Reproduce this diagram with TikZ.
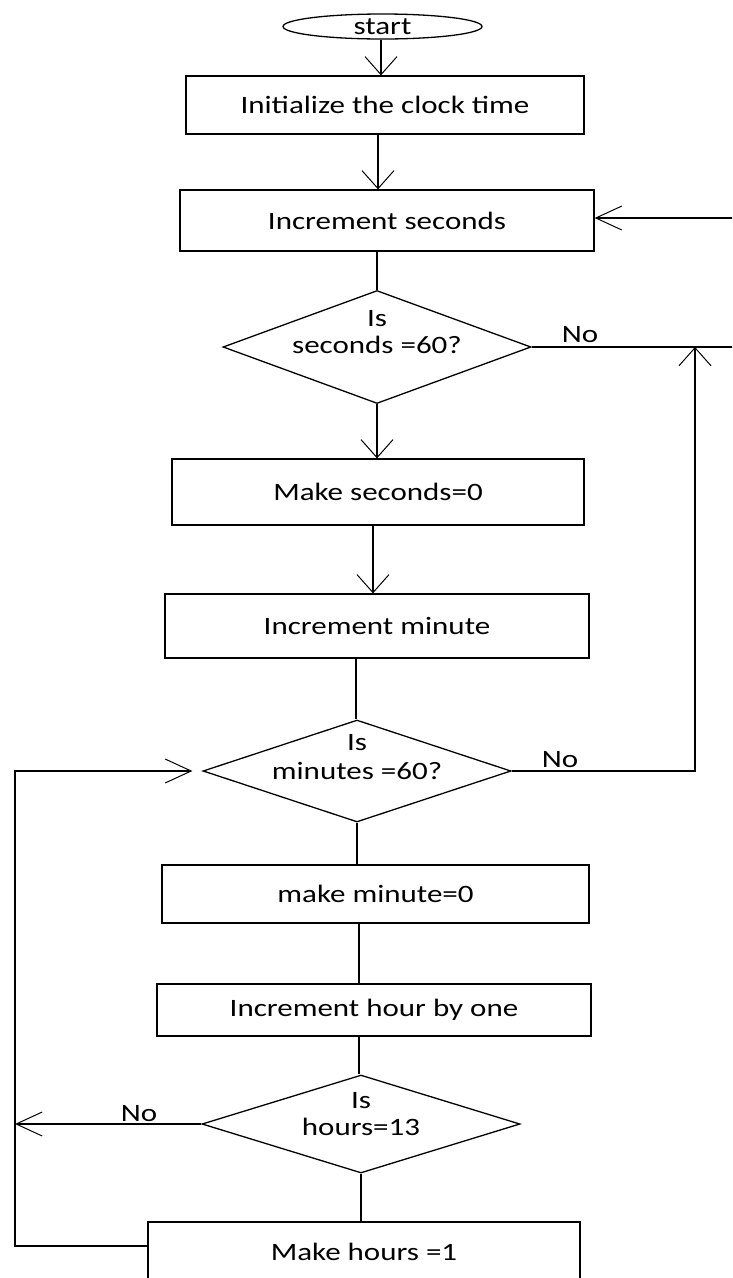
\documentclass[tikz,border=0pt]{standalone}
\usepackage{fontspec}
\setmainfont{Carlito}
\usetikzlibrary{arrows.meta,shapes.geometric,calc}

% text is set a little wider than the font's natural width
\newcommand{\wtxt}[1]{\scalebox{1.24}[1]{#1}}

\tikzset{
  flow/.style={line width=1.3pt, black},
  procbox/.style={draw, flow, rectangle, inner sep=0pt, font=\fontsize{25}{30}\selectfont},
  decide/.style={draw, flow, diamond, inner sep=0pt},
  termin/.style={draw, flow, ellipse, inner sep=0pt, font=\fontsize{25}{30}\selectfont},
  lbl/.style={inner sep=0pt, anchor=base, font=\fontsize{25}{30}\selectfont},
  vtip/.style={-{Straight Barb[length=18pt,width=32pt,line width=1pt]}},
  htip/.style={-{Straight Barb[length=26pt,width=24pt,line width=1pt]}},
}

\begin{document}
\begin{tikzpicture}[x=1pt,y=-1pt]
\useasboundingbox (0,0) rectangle (732,1278);
\clip (0,0) rectangle (732,1278);

% terminal and process boxes
\node[termin, minimum width=199pt, minimum height=25pt] (start) at (382.5,26.5) {\wtxt{start}};
\node[procbox, minimum width=398pt, minimum height=58pt] (b1) at (385,105) {\wtxt{Initialize the clock time}};
\node[procbox, minimum width=414pt, minimum height=61pt] (b2) at (387,220.5) {\wtxt{Increment seconds}};
\node[procbox, minimum width=412pt, minimum height=66pt] (b3) at (378,492) {\wtxt{Make seconds=0}};
\node[procbox, minimum width=424pt, minimum height=64pt] (b4) at (377,626) {\wtxt{Increment minute}};
\node[procbox, minimum width=427pt, minimum height=58pt] (b5) at (375.5,894) {\wtxt{make minute=0}};
\node[procbox, minimum width=434pt, minimum height=52pt] (b6) at (374,1010) {\wtxt{Increment hour by one}};
\node[procbox, minimum width=432pt, minimum height=60pt] (b7) at (364,1252) {\wtxt{Make hours =1}};

% decisions
\node[decide, minimum width=308pt, minimum height=113pt] (d1) at (377,347) {};
\node[decide, minimum width=308pt, minimum height=102pt] (d2) at (357,771) {};
\node[decide, minimum width=318pt, minimum height=98pt] (d3) at (361,1124) {};

\node[lbl] (d1a) at ($(d1.center)+(0,-21)$) {\wtxt{Is}};
\node[lbl] (d1b) at ($(d1.center)+(0,6)$) {\wtxt{seconds =60?}};
\node[lbl] (d2a) at ($(d2.center)+(0,-21)$) {\wtxt{Is}};
\node[lbl] (d2b) at ($(d2.center)+(0,8)$) {\wtxt{minutes =60?}};
\node[lbl] (d3a) at ($(d3.center)+(0,-16)$) {\wtxt{Is}};
\node[lbl] (d3b) at ($(d3.center)+(0,11)$) {\wtxt{hours=13}};

% branch labels
\node[lbl] (no1) at (580,342) {\wtxt{No}};
\node[lbl] (no2) at (560,767) {\wtxt{No}};
\node[lbl] (no3) at (139,1121) {\wtxt{No}};

% attachment points of the vertical connectors
\coordinate (s1) at ([xshift=-1.5pt]start.south);
\coordinate (p1) at ([xshift=-7pt]b1.south);
\coordinate (p3) at ([xshift=-5pt]b3.south);
\coordinate (p4) at ([xshift=-21pt]b4.south);
\coordinate (p5) at ([xshift=-16.5pt]b5.south);
\coordinate (p6) at ([xshift=-15pt]b6.south);

% main downward flow
\draw[flow, vtip] (s1) -- (s1 |- b1.north);
\draw[flow, vtip] (p1) -- (p1 |- b2.north);
\draw[flow] (d1.north |- b2.south) -- (d1.north);
\draw[flow, vtip] (d1.south) -- (d1.south |- b3.north);
\draw[flow, vtip] (p3) -- (p3 |- b4.north);
\draw[flow] (p4) -- (p4 |- d2.north);
\draw[flow] (d2.south) -- (d2.south |- b5.north);
\draw[flow] (p5) -- (p5 |- b6.north);
\draw[flow] (p6) -- (p6 |- d3.north);
\draw[flow] (d3.south) -- (d3.south |- b7.north);

% "No" from seconds test back to increment seconds
\coordinate (rEdgeLow) at (745,347);
\coordinate (rEdgeHigh) at (745,218);
\draw[flow, htip] (d1.east) -- (rEdgeLow) -- (rEdgeHigh) -- (rEdgeHigh -| b2.east);

% "No" from minutes test up to the seconds loop
\coordinate (rj) at (695,771);
\draw[flow, vtip] (d2.east) -- (rj) -- (rj |- d1.east);

% loop on the left from make hours back to the minutes test
\coordinate (lb) at (15,1246);
\draw[flow, htip, shorten >=10pt] (lb -| b7.west) -- (lb) -- (lb |- d2.west) -- (d2.west);

% "No" from hours test to the left line
\draw[flow, htip] (d3.west) -- (d3.west -| lb);

\end{tikzpicture}
\end{document}
